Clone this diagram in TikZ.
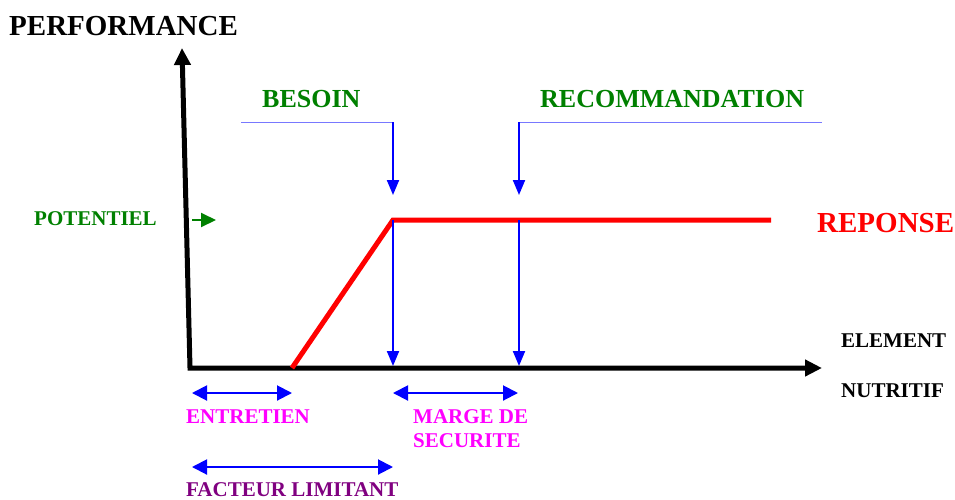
\documentclass[tikz,border=0pt]{standalone}
\usepackage{fontspec}
\setmainfont{Liberation Serif}
\usetikzlibrary{arrows.meta, positioning}
\definecolor{LeafGreen}{RGB}{0,128,0}
\definecolor{PlumPurple}{RGB}{128,0,128}
\definecolor{PaleBlue}{RGB}{120,120,255}
\definecolor{HotMagenta}{RGB}{255,0,255}

\begin{document}
\begin{tikzpicture}[x=1pt, y=-1pt,
    axis/.style={line width=5pt, line join=miter, {Triangle[length=17pt,width=16pt]}-{Triangle[length=17pt,width=16pt]}},
    tick/.style={blue, line width=2pt, -{Triangle[length=15pt,width=12pt]}},
    span/.style={blue, line width=2pt, {Triangle[length=15pt,width=15pt]}-{Triangle[length=15pt,width=15pt]}},
    leader/.style={PaleBlue, line width=1pt},
    small/.style={font=\bfseries\fontsize{21}{24}\selectfont, inner sep=0pt, anchor=base west, align=left},
    big/.style={font=\bfseries\fontsize{26}{30}\selectfont, inner sep=0pt, anchor=base west}]
  \useasboundingbox (0,0) rectangle (955,499);

  \coordinate (O) at (190,368);
  \coordinate (ytop) at (182,48);
  \coordinate (xend) at (822,368);
  \draw[axis] (ytop) -- (O) -- (xend);

  \coordinate (start) at (292,368);
  \coordinate (knee) at (393,220);
  \coordinate (flat) at (519,220);
  \coordinate (rend) at (771,220);
  \draw[red, line width=5pt] (start) -- (knee) -- (rend);

  \coordinate (besoinL) at (241,122);
  \coordinate (besoinK) at (393,122);
  \coordinate (besoinT) at (393,195);
  \coordinate (recoK) at (519,122);
  \coordinate (recoR) at (822,122);
  \coordinate (recoT) at (519,195);
  \draw[leader] (besoinL) -- (besoinK);
  \draw[leader] (recoK) -- (recoR);
  \draw[tick] (besoinK) -- (besoinT);
  \draw[tick] (recoK) -- (recoT);

  \coordinate (besoinB) at (393,366);
  \coordinate (recoB) at (519,366);
  \draw[tick] (knee) -- (besoinB);
  \draw[tick] (flat) -- (recoB);

  \coordinate (potA) at (192,220);
  \coordinate (potB) at (216,220);
  \draw[LeafGreen, line width=2pt, -{Triangle[length=15pt,width=14pt]}] (potA) -- (potB);

  \coordinate (entA) at (192,393);
  \coordinate (entB) at (292,393);
  \coordinate (marA) at (393,393);
  \coordinate (marB) at (518,393);
  \coordinate (facA) at (192,467);
  \coordinate (facB) at (393,467);
  \draw[span] (entA) -- (entB);
  \draw[span] (marA) -- (marB);
  \draw[span] (facA) -- (facB);

  \node[big, font=\bfseries\fontsize{29}{32}\selectfont] (perf) at (9,35) {PERFORMANCE};
  \node[big, LeafGreen] (besoin) at (262,107) {BESOIN};
  \node[big, LeafGreen] (reco) at (540,107) {RECOMMANDATION};
  \node[small, LeafGreen] (potentiel) at (34,225) {POTENTIEL};
  \node[big, red, font=\bfseries\fontsize{29}{32}\selectfont] (reponse) at (817,232) {REPONSE};
  \node[small] (element) at (841,347) {ELEMENT};
  \node[small] (nutritif) at (841,397) {NUTRITIF};
  \node[small, HotMagenta] (entretien) at (186,423) {ENTRETIEN};
  \node[small, HotMagenta] (marge) at (413,447) {MARGE DE\\SECURITE};
  \node[small, PlumPurple] (facteur) at (186,496) {FACTEUR LIMITANT};
\end{tikzpicture}
\end{document}
